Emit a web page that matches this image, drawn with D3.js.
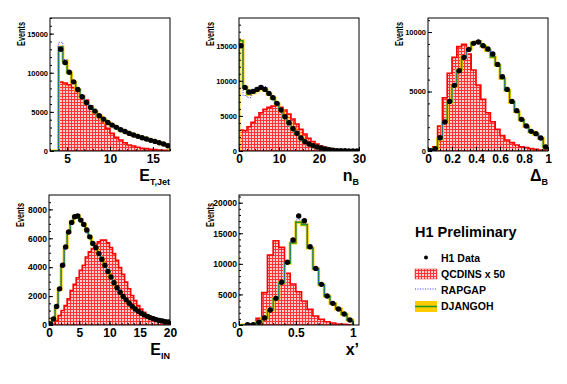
<!DOCTYPE html>
<html>
<head>
<meta charset="utf-8">
<script src="https://cdn.jsdelivr.net/npm/d3@7"></script>
<style>
  body { margin: 0; background: #fff; }
  svg text { font-family: "Liberation Sans", Arial, Helvetica, sans-serif; font-weight: bold; fill: #000; }
</style>
</head>
<body>
<svg width="567" height="384"></svg>
<script>
// ---- data (events per bin) ----
// E_T,Jet : bins of 0.5 from 4 to 17
const etData = [13000, 11300, 10070, 8840, 7860, 6930, 6200, 5570, 5100, 4500, 4080, 3650, 3310, 3020, 2720, 2500, 2250, 2040, 1870, 1700, 1530, 1360, 1230, 1060, 890, 680];
const etQcdins = [8800, 8700, 8460, 8100, 7600, 7050, 6500, 5740, 4890, 4300, 3700, 2890, 2250, 1740, 1400, 1060, 760, 640, 470, 340, 300, 210, 170, 130, 100, 80];
const etRapgap = [13900, 11700, 10200, 8900, 7900, 6950, 6200, 5580, 5080, 4500, 4060, 3640, 3300, 3000, 2720, 2490, 2250, 2040, 1860, 1700, 1530, 1360, 1230, 1070, 890, 690];
const etDjangoh = [13300, 11500, 10000, 8800, 7800, 6900, 6100, 5500, 5000, 4450, 4000, 3600, 3280, 2980, 2700, 2480, 2240, 2030, 1850, 1690, 1520, 1360, 1220, 1060, 900, 700];

// n_B : bins of 1 from 0 to 30
const nbData = [15000, 9060, 8400, 8500, 8780, 9060, 8780, 8210, 7590, 6790, 5840, 4890, 4030, 3180, 2520, 1850, 1330, 1000, 760, 570, 430, 280, 190, 100, 60, 40, 30, 20, 10, 10];
const nbQcdins = [2990, 2900, 3460, 4080, 4790, 5460, 5930, 6220, 6400, 6450, 6220, 5840, 5270, 4560, 3840, 3080, 2420, 1800, 1330, 1000, 710, 520, 380, 280, 190, 140, 80, 50, 30, 20];
const nbRapgap = [15300, 7900, 7600, 8200, 8900, 9300, 9200, 8400, 7600, 6800, 5850, 4900, 4000, 3150, 2500, 1850, 1330, 1000, 760, 570, 430, 280, 190, 100, 60, 40, 30, 20, 10, 10];
const nbDjangoh = [15700, 9100, 8100, 8300, 8600, 8900, 8700, 8100, 7500, 6700, 5800, 4850, 3980, 3150, 2480, 1830, 1320, 990, 750, 560, 420, 280, 190, 100, 60, 40, 30, 20, 10, 10];

// Delta_B : bins of 0.04 from 0 to 1
const dbData = [30, 200, 1120, 2440, 4170, 5520, 6750, 7870, 8540, 9050, 9160, 8850, 8570, 8150, 7280, 6250, 5180, 4170, 3390, 2660, 2100, 1650, 1460, 1090, 340];
const dbQcdins = [0, 360, 2100, 4480, 6530, 7870, 8770, 8960, 8150, 6810, 5550, 4340, 3220, 2460, 1820, 1290, 920, 700, 500, 360, 280, 200, 140, 80, 50];
const dbRapgap = [20, 200, 1050, 2450, 4150, 5500, 6800, 7900, 8550, 9050, 9150, 8800, 8500, 8000, 7250, 6200, 5150, 4150, 3350, 2650, 2080, 1640, 1430, 1070, 340];
const dbDjangoh = [20, 180, 1000, 2400, 4100, 5450, 6800, 7900, 8600, 9100, 9200, 8800, 8450, 7900, 7200, 6100, 5100, 4100, 3300, 2600, 2050, 1620, 1400, 1050, 330];

// E_IN : bins of 0.5 from 0 to 20
const einData = [70, 420, 1280, 2500, 4130, 5400, 6430, 7100, 7490, 7540, 7260, 6960, 6570, 6100, 5640, 5340, 4940, 4550, 4130, 3710, 3320, 2920, 2580, 2270, 1970, 1740, 1510, 1300, 1110, 950, 810, 700, 600, 510, 440, 370, 320, 280, 230, 210];
const einQcdins = [0, 70, 300, 650, 1000, 1350, 1810, 2390, 2810, 3270, 3780, 4130, 4710, 5060, 5290, 5590, 5750, 5870, 5870, 5680, 5360, 4940, 4480, 3970, 3500, 2970, 2510, 2040, 1690, 1350, 1110, 880, 700, 530, 420, 320, 260, 190, 140, 120];
const einRapgap = [60, 430, 1300, 2520, 4150, 5420, 6400, 7050, 7450, 7500, 7200, 6850, 6350, 6000, 5600, 5300, 4920, 4530, 4120, 3700, 3310, 2920, 2580, 2270, 1970, 1740, 1510, 1300, 1110, 950, 810, 700, 600, 510, 440, 370, 320, 280, 230, 210];
const einDjangoh = [60, 420, 1270, 2480, 4120, 5380, 6420, 7120, 7520, 7560, 7300, 6950, 6550, 6080, 5620, 5320, 4920, 4540, 4120, 3700, 3310, 2910, 2570, 2260, 1960, 1730, 1500, 1290, 1100, 940, 800, 690, 590, 500, 430, 360, 310, 270, 220, 200];

// x' : bins of 0.05 from 0 to 1
const xpData = [0, 50, 50, 440, 1140, 2450, 4360, 6980, 10250, 13900, 17820, 17060, 12800, 9260, 6650, 4740, 3540, 2620, 1800, 820];
const xpQcdins = [0, 0, 0, 1090, 5290, 11440, 13790, 12700, 8450, 6700, 5450, 3920, 2560, 1470, 930, 540, 330, 160, 110, 50];
const xpRapgap = [0, 40, 50, 430, 1120, 2430, 4350, 6950, 10200, 13700, 17200, 16600, 12700, 9200, 6600, 4700, 3500, 2600, 1780, 810];
const xpDjangoh = [0, 40, 50, 420, 1100, 2400, 4300, 6900, 10100, 13400, 16800, 16400, 12600, 9200, 6600, 4700, 3500, 2600, 1750, 800];

const legendNames = ["H1 Data", "QCDINS x 50", "RAPGAP", "DJANGOH"];

// ---- panel layout ----
const panels = [
  { left: 50, top: 18, w: 120, h: 133, xDomain: [3, 17], yMax: 17000, start: 4, step: 0.5,
    data: etData, qcd: etQcdins, rap: etRapgap, dja: etDjangoh,
    xTicks: [5, 10, 15], xMinor: d3.range(3, 17.01, 1), yTicks: [0, 5000, 10000, 15000], yMinor: d3.range(0, 17001, 1000),
    title: "E", sub: "T,Jet", yFont: 7.5, evTop: 4 },
  { left: 239, top: 18, w: 120, h: 133, xDomain: [0, 30], yMax: 18950, start: 0, step: 1,
    data: nbData, qcd: nbQcdins, rap: nbRapgap, dja: nbDjangoh,
    xTicks: [0, 10, 20, 30], xMinor: d3.range(0, 30.1, 2), yTicks: [0, 5000, 10000, 15000], yMinor: d3.range(0, 18951, 1000),
    title: "n", sub: "B", yFont: 7.5, evTop: 4 },
  { left: 428, top: 18, w: 120, h: 133, xDomain: [0, 1], yMax: 11180, start: 0, step: 0.04,
    data: dbData, qcd: dbQcdins, rap: dbRapgap, dja: dbDjangoh,
    xTicks: [0, 0.2, 0.4, 0.6, 0.8, 1], xMinor: d3.range(0, 1.001, 0.05), yTicks: [0, 5000, 10000], yMinor: d3.range(0, 11001, 1000),
    title: "\u0394", sub: "B", yFont: 7.5, evTop: 4 },
  { left: 49, top: 195, w: 121, h: 130, xDomain: [0, 20], yMax: 8995, start: 0, step: 0.5,
    data: einData, qcd: einQcdins, rap: einRapgap, dja: einDjangoh,
    xTicks: [0, 5, 10, 15, 20], xMinor: d3.range(0, 20.1, 1), yTicks: [0, 2000, 4000, 6000, 8000], yMinor: d3.range(0, 8901, 500),
    title: "E", sub: "IN", yFont: 8.5, evTop: 8 },
  { left: 239, top: 195, w: 120, h: 130, xDomain: [0, 1.055], yMax: 21260, start: 0, step: 0.05,
    data: xpData, qcd: xpQcdins, rap: xpRapgap, dja: xpDjangoh,
    xTicks: [0, 0.5, 1], xMinor: d3.range(0, 1.051, 0.1), yTicks: [0, 5000, 10000, 15000, 20000], yMinor: d3.range(0, 21001, 1000),
    title: "x\u2019", sub: "", yFont: 8.5, evTop: 8 }
];

const svg = d3.select("svg");
const defs = svg.append("defs");

const hatch = defs.append("pattern").attr("id", "hatch")
  .attr("width", 3).attr("height", 3).attr("patternUnits", "userSpaceOnUse");
hatch.append("rect").attr("width", 3).attr("height", 3).attr("fill", "#ffd0d0");
hatch.append("path").attr("d", "M0,0.5H3M0.5,0V3").attr("stroke", "#ff3333").attr("stroke-width", 1);

// build step outline of a histogram in data coordinates
function stepPoints(vals, start, step) {
  const pts = [[start, 0]];
  vals.forEach((v, i) => {
    pts.push([start + i * step, v]);
    pts.push([start + (i + 1) * step, v]);
  });
  pts.push([start + vals.length * step, 0]);
  return pts;
}

panels.forEach((p, k) => {
  const g = svg.append("g").attr("transform", "translate(" + p.left + "," + p.top + ")");
  const x = d3.scaleLinear().domain(p.xDomain).range([0, p.w]);
  const y = d3.scaleLinear().domain([0, p.yMax]).range([p.h, 0]);

  defs.append("clipPath").attr("id", "clip" + k)
    .append("rect").attr("width", p.w).attr("height", p.h);

  const plot = g.append("g").attr("clip-path", "url(#clip" + k + ")");
  const line = d3.line().x((d) => x(d[0])).y((d) => y(d[1]));

  // QCDINS
  const qpts = stepPoints(p.qcd, p.start, p.step);
  plot.append("path").attr("d", line(qpts) + "Z")
    .attr("fill", "url(#hatch)").attr("stroke", "none");
  plot.append("path").attr("d", line(qpts))
    .attr("fill", "none").attr("stroke", "#ff0000").attr("stroke-width", 1.6);

  // DJANGOH: yellow band + green line
  const dpts = stepPoints(p.dja, p.start, p.step);
  dpts.unshift([p.xDomain[0], 0]);
  plot.append("path").attr("d", line(dpts))
    .attr("fill", "none").attr("stroke", "#ffcc00").attr("stroke-width", 3);
  plot.append("path").attr("d", line(dpts))
    .attr("fill", "none").attr("stroke", "#1f9a1f").attr("stroke-width", 1.4);

  // RAPGAP
  const rpts = stepPoints(p.rap, p.start, p.step);
  rpts.unshift([p.xDomain[0], 0]);
  plot.append("path").attr("d", line(rpts))
    .attr("fill", "none").attr("stroke", "#3d3dff").attr("stroke-width", 1)
    .attr("stroke-dasharray", "1,1.5");

  // data
  plot.selectAll("circle").data(p.data.map((v, i) => [p.start + (i + 0.5) * p.step, v]).filter((d) => d[1] > 0))
    .enter().append("circle")
    .attr("cx", (d) => x(d[0])).attr("cy", (d) => y(d[1]))
    .attr("r", 2.7).attr("fill", "#000");

  // frame
  g.append("rect").attr("width", p.w).attr("height", p.h)
    .attr("fill", "none").attr("stroke", "#000").attr("stroke-width", 1);

  // axes, ticks inside frame
  const ya = g.append("g").call(d3.axisLeft(y).tickValues(p.yTicks).tickSize(-4).tickPadding(2).tickFormat(d3.format("d")));
  ya.selectAll("text").style("font-size", p.yFont + "px");
  g.append("g").call(d3.axisLeft(y).tickValues(p.yMinor).tickSize(-2).tickFormat(""));
  const xa = g.append("g").attr("transform", "translate(0," + p.h + ")")
    .call(d3.axisBottom(x).tickValues(p.xTicks).tickSize(-4).tickPadding(3).tickFormat((d) => String(d)));
  xa.selectAll("text").style("font-size", "12px");
  g.append("g").attr("transform", "translate(0," + p.h + ")")
    .call(d3.axisBottom(x).tickValues(p.xMinor).tickSize(-2).tickFormat(""));
  g.selectAll(".domain").remove();
  g.selectAll(".tick line").attr("stroke", "#000");

  // y title (narrow, tall glyphs as in the original)
  g.append("text").attr("transform", "translate(-25.5," + p.evTop + ") rotate(-90)")
    .attr("text-anchor", "end").style("font-size", "10px")
    .attr("textLength", 24).attr("lengthAdjust", "spacingAndGlyphs").text("Events");

  // x title
  const t = g.append("text").attr("x", p.w).attr("y", p.h + 30)
    .attr("text-anchor", "end").style("font-size", "16px");
  t.append("tspan").text(p.title);
  if (p.sub) t.append("tspan").attr("dy", 4).style("font-size", "9px").text(p.sub);
});

// ---- legend ----
const lg = svg.append("g").attr("transform", "translate(415,0)");
lg.append("text").attr("x", 0).attr("y", 237).style("font-size", "14.5px").text("H1 Preliminary");
const rows = [260, 276, 292, 308];
legendNames.forEach((name, i) => {
  lg.append("text").attr("x", 26).attr("y", rows[i] + 1.5).style("font-size", "10.5px").text(name);
});
lg.append("circle").attr("cx", 11).attr("cy", rows[0] - 2.5).attr("r", 2).attr("fill", "#000");
lg.append("rect").attr("x", 0).attr("y", rows[1] - 7).attr("width", 22).attr("height", 10)
  .attr("fill", "url(#hatch)").attr("stroke", "#ff3333").attr("stroke-width", 0.5);
lg.append("line").attr("x1", 0).attr("x2", 22).attr("y1", rows[2] - 3).attr("y2", rows[2] - 3)
  .attr("stroke", "#3d3dff").attr("stroke-width", 1).attr("stroke-dasharray", "1,1.5");
lg.append("rect").attr("x", 0).attr("y", rows[3] - 7).attr("width", 22).attr("height", 11).attr("fill", "#ffcc00");
lg.append("line").attr("x1", 0).attr("x2", 22).attr("y1", rows[3] - 1.5).attr("y2", rows[3] - 1.5)
  .attr("stroke", "#1f9a1f").attr("stroke-width", 1.6);
</script>
</body>
</html>
